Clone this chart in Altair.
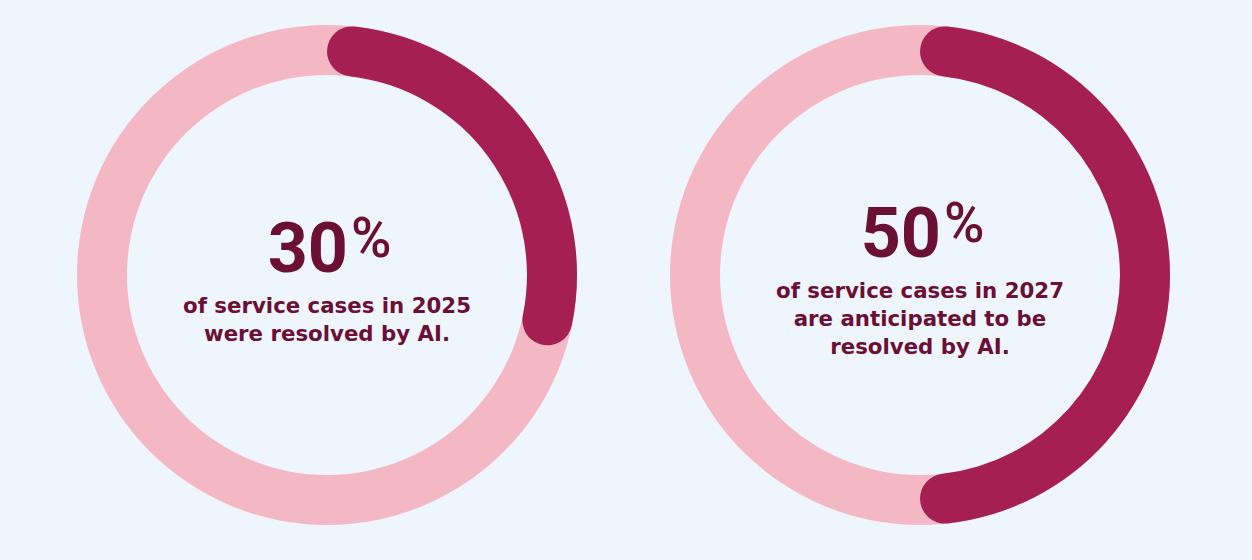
import math
import altair as alt
import pandas as pd

# ---- data ----
years = ["2025", "2027"]
percents = [30, 50]
number_labels = ["30", "50"]
captions = [
    ["of service cases in 2025", "were resolved by AI."],
    ["of service cases in 2027", "are anticipated to be", "resolved by AI."],
]

DARK = "#A51F52"
LIGHT = "#F4B8C4"
BG = "#EEF5FC"
TEXT = "#6B0F35"

theta_scale = alt.Scale(domain=[0, 100], range=[0, 2 * math.pi])


def panel(pct, label, lines):
    ring = pd.DataFrame({"start": [0], "end": [100]})
    part = pd.DataFrame({"start": [0], "end": [pct]})
    ring_layer = alt.Chart(ring).mark_arc(
        outerRadius=250, innerRadius=200, color=LIGHT
    ).encode(
        theta=alt.Theta("start:Q", scale=theta_scale, stack=False),
        theta2="end:Q",
    )
    arc_layer = alt.Chart(part).mark_arc(
        outerRadius=250, innerRadius=200, cornerRadius=25, color=DARK
    ).encode(
        theta=alt.Theta("start:Q", scale=theta_scale, stack=False),
        theta2="end:Q",
    )
    shift = (len(lines) - 2) * 15
    txt = pd.DataFrame({"num": [label], "pct": ["%"], "cap": ["\n".join(lines)]})
    num = alt.Chart(txt).mark_text(
        align="right", baseline="alphabetic", dx=21, dy=-3 - shift,
        font="Roboto", fontWeight="bold", fontSize=70, color=TEXT
    ).encode(text="num:N")
    pc = alt.Chart(txt).mark_text(
        align="left", baseline="alphabetic", dx=24, dy=-18 - shift,
        font="Roboto", fontWeight=500, fontSize=55, color=TEXT
    ).encode(text="pct:N")
    cap = alt.Chart(txt).mark_text(
        align="center", baseline="alphabetic", dy=38 - shift, lineBreak="\n",
        lineHeight=28, font="DejaVu Sans", fontWeight="bold", fontSize=21.3,
        color=TEXT
    ).encode(text="cap:N")
    return alt.layer(ring_layer, arc_layer, num, pc, cap).properties(
        width=560, height=550
    )


chart = alt.hconcat(
    *[panel(p, l, c) for p, l, c in zip(percents, number_labels, captions)],
    spacing=33,
).properties(
    padding={"left": 47, "top": 0, "right": 52, "bottom": 10},
    background=BG,
).configure_view(strokeWidth=0)

chart.save("out.html", embed_options={"renderer": "svg", "actions": False})
